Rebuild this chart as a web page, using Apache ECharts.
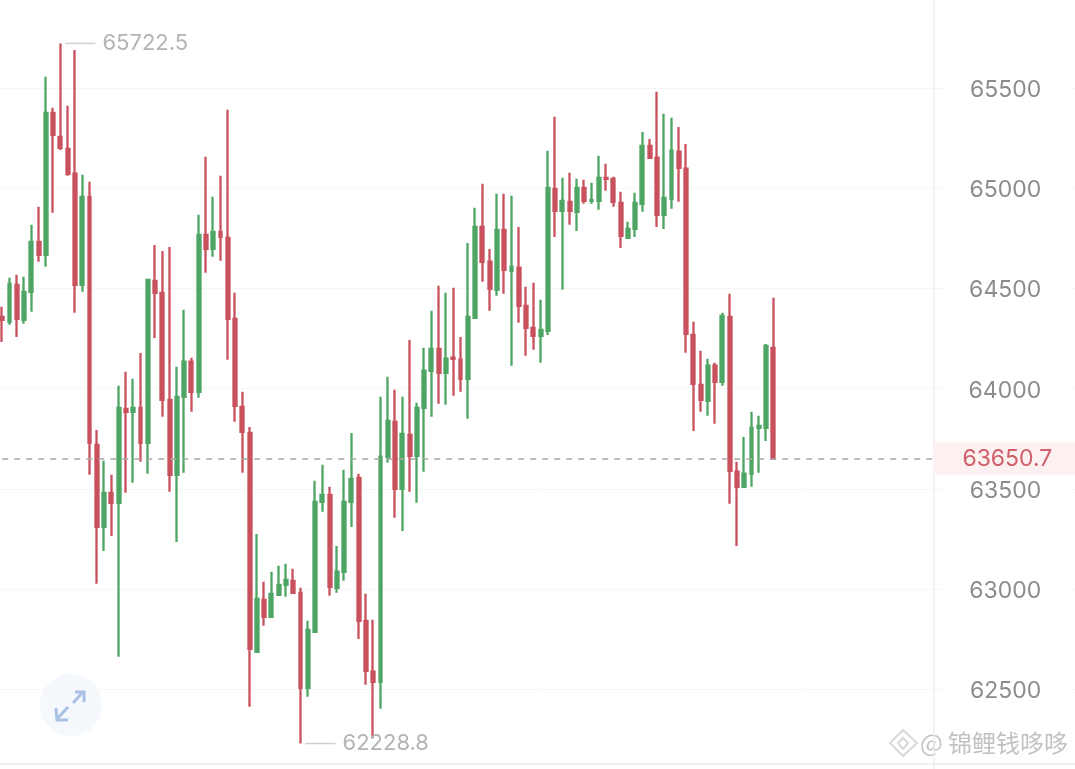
<!DOCTYPE html>
<html>
<head>
<meta charset="utf-8">
<style>html,body{margin:0;padding:0;background:#fff}#c{width:1075px;height:769px}</style>
<script src="https://cdn.jsdelivr.net/npm/echarts@6/dist/echarts.min.js"></script>
</head>
<body>
<div id="c"></div>
<script>
const opens = [
64358,64333,64518,64343,64483,64732,64668,65376,65256,65196,
65072,64518,64957,63719,63310,63480,63430,63899,63884,63904,
63729,64538,64478,63944,63570,63959,64134,63984,64767,64697,
64782,64752,64348,63909,63779,62687,62946,62861,62971,63021,
63041,62981,62507,62786,63435,63470,63006,63086,63435,63555,
62841,62587,62537,63660,63834,63500,63769,63665,63904,64089,
64198,64079,64154,64144,64049,64353,64807,64633,64493,64792,
64588,64603,64413,64303,64263,64288,64997,64887,64932,64882,
65002,64937,64937,65052,65047,64927,64752,64797,64922,65211,
65152,64867,64947,65182,65097,64268,64019,63939,64114,64034,
64358,63585,63510,63575,63804,63804,64203];
const closes = [
64343,64523,64348,64483,64732,64668,65376,65266,65201,65072,
64518,64957,63729,63310,63480,63430,63904,63884,63904,63729,
64543,64478,63944,63570,63959,64134,63984,64767,64697,64782,
64757,64348,63914,63784,62701,62951,62861,62976,63021,63046,
62981,62507,62796,63435,63470,63011,63086,63435,63550,62841,
62592,62537,63660,63839,63500,63774,63665,63904,64089,64198,
64079,64149,64149,64049,64358,64807,64633,64498,64792,64593,
64608,64413,64303,64263,64293,65002,64887,64937,64887,65002,
64937,64942,65052,65047,64932,64762,64797,64927,65211,65152,
64867,64952,65187,65102,64273,64024,63944,64114,64034,64363,
63590,63510,63575,63804,63814,64213,63650.7];
const lows = [
64233,64318,64258,64323,64383,64633,64608,64877,65191,65062,
64378,64483,63570,63026,63190,63265,62662,63480,63530,63635,
63575,64253,63859,63485,63235,63580,63884,63954,64578,64658,
64638,64144,63834,63580,62412,62682,62816,62861,62966,62961,
62981,62228.8,62462,62786,63385,62966,62981,63041,63310,62751,
62522,62257,62402,63630,63355,63290,63485,63430,63585,63859,
63924,63919,63964,63984,63849,64353,64533,64388,64463,64473,
64114,64328,64164,64194,64129,64268,64757,64493,64817,64787,
64922,64922,64892,64987,64907,64702,64747,64757,64882,65152,
64807,64797,64897,64932,64179,63789,63884,63864,63824,64014,
63425,63215,63510,63510,63580,63739,63650.7];
const highs = [
64408,64553,64568,64558,64817,64907,65556,65401,65722.5,65411,
65690,65067,65032,63794,63640,63570,64014,64084,64049,64178,
64543,64717,64687,64707,64109,64393,64154,64867,65157,64957,
65062,65391,64478,63984,63809,63275,63036,63086,63116,63126,
63101,63006,62841,63540,63620,63510,63215,63595,63779,63575,
62976,62846,63959,64059,63994,63959,64243,63929,64204,64388,
64513,64478,64503,64258,64727,64902,65022,64697,64972,64972,
64962,64807,64508,64528,64443,65187,65356,65052,65077,65047,
65042,65027,65162,65122,65057,64982,64832,64977,65281,65246,
65481,65371,65351,65306,65221,64333,64189,64149,64129,64378,
64473,63635,63759,63884,63864,64223,64453];
const slots = 148;                 // candle slots along the window, the last ones empty
const categories = Array.from({length: slots}, (_, i) => String(i));
const lastPrice = 63650.7;
const maxIndex = 8, minIndex = 41;
const panelSlot = 128;             // slot of the price-panel divider
const floorValue = 62128;
const watermark = '@ 锦鲤钱哆哆';

const GREEN = '#4ea564', RED = '#c9515d', GREY = '#8c8c8c', EXT = '#b4b4b4';
const FONT = 'Inter, Roboto, sans-serif';
const candles = opens.map((o, i) => [o, closes[i], lows[i], highs[i]]);

function extremeLabel(v) {
  return {
    show: true, position: 'right', distance: 5,
    formatter: '{l|}{g|}{t|' + v + '}',
    rich: {
      l: {width: 30, height: 1.5, backgroundColor: '#cfcfcf', verticalAlign: 'middle'},
      g: {width: 7, height: 1},
      t: {fontFamily: FONT, fontSize: 22, color: EXT, verticalAlign: 'middle'}
    }
  };
}

const chart = echarts.init(document.getElementById('c'), null, {renderer: 'canvas'});
chart.setOption({
  animation: false,
  backgroundColor: '#fff',
  grid: {left: -1.4, top: -12.2, width: 1076.64, height: 801.6, containLabel: false, outerBoundsMode: 'none'},
  xAxis: {
    type: 'category', data: categories, boundaryGap: true,
    axisLine: {show: false}, axisTick: {show: false}, axisLabel: {show: false}, splitLine: {show: false}
  },
  yAxis: {
    type: 'value', position: 'right', min: 62000, max: 66000, interval: 500, scale: true,
    axisLine: {show: false}, axisTick: {show: false},
    splitLine: {show: true, lineStyle: {color: '#f6f6f6', width: 1}},
    axisLabel: {
      show: true, inside: true, margin: 5, showMinLabel: false, showMaxLabel: false,
      formatter: v => '{a|' + v + '}',
      backgroundColor: '#fff',
      padding: [4, 29, 4, 27],
      rich: {a: {fontFamily: FONT, fontSize: 23, color: GREY, padding: [4, 0, 0, 0]}}
    }
  },
  series: [{
    type: 'candlestick',
    data: candles,
    barWidth: 3.4,
    itemStyle: {color: GREEN, color0: RED, borderColor: GREEN, borderColor0: RED, borderWidth: 2.3},
    markPoint: {
      symbol: 'circle', symbolSize: 0, silent: true,
      data: [
        {coord: [maxIndex, highs[maxIndex]], label: extremeLabel(highs[maxIndex])},
        {coord: [minIndex, lows[minIndex]], label: extremeLabel(lows[minIndex])}
      ]
    },
    markLine: {
      symbol: 'none', silent: true, animation: false,
      data: [
        {xAxis: panelSlot, label: {show: false}, lineStyle: {color: '#eeeeee', width: 1.5, type: 'solid'}},
        {yAxis: floorValue, label: {show: false}, lineStyle: {color: '#ebebeb', width: 1.5, type: 'solid'}},
        [
          {coord: [0, lastPrice],
           lineStyle: {color: '#a8a8a8', width: 1.6, type: [6, 6]},
           label: {
             show: true, position: 'end', distance: 0, formatter: String(lastPrice),
             fontFamily: FONT, fontSize: 23, color: '#cf5f69',
             backgroundColor: '#fdf0f0', padding: [4, 25, 4, 29], lineHeight: 24
           }},
          {coord: [panelSlot, lastPrice]}
        ]
      ]
    }
  }],
  graphic: [
    {type: 'circle', shape: {cx: 71, cy: 705, r: 31}, style: {fill: '#f5f8fd'}, silent: true},
    {type: 'polyline', shape: {points: [[73, 703], [83, 692]]}, style: {stroke: '#a9c1e4', lineWidth: 3, fill: null}, silent: true},
    {type: 'polyline', shape: {points: [[75, 692], [84, 692], [84, 702]]}, style: {stroke: '#a9c1e4', lineWidth: 3, fill: null}, silent: true},
    {type: 'polyline', shape: {points: [[68, 707], [57, 719]]}, style: {stroke: '#a9c1e4', lineWidth: 3, fill: null}, silent: true},
    {type: 'polyline', shape: {points: [[56, 708], [57, 720], [68, 720]]}, style: {stroke: '#a9c1e4', lineWidth: 3, fill: null}, silent: true},
    {type: 'polygon', shape: {points: [[903, 730], [917, 743], [903, 756], [890, 743]]}, style: {stroke: '#d8d8d8', lineWidth: 2, fill: '#fff'}, silent: true},
    {type: 'polygon', shape: {points: [[903, 738], [908, 743], [903, 749], [898, 743]]}, style: {stroke: '#d8d8d8', lineWidth: 2, fill: '#fff'}, silent: true},
    {type: 'text', x: 920, y: 743, style: {text: watermark, fontFamily: '"Noto Sans CJK SC", sans-serif', fontSize: 24, fill: '#c2c2c2', verticalAlign: 'middle'}, silent: true}
  ]
});
</script>
</body>
</html>
